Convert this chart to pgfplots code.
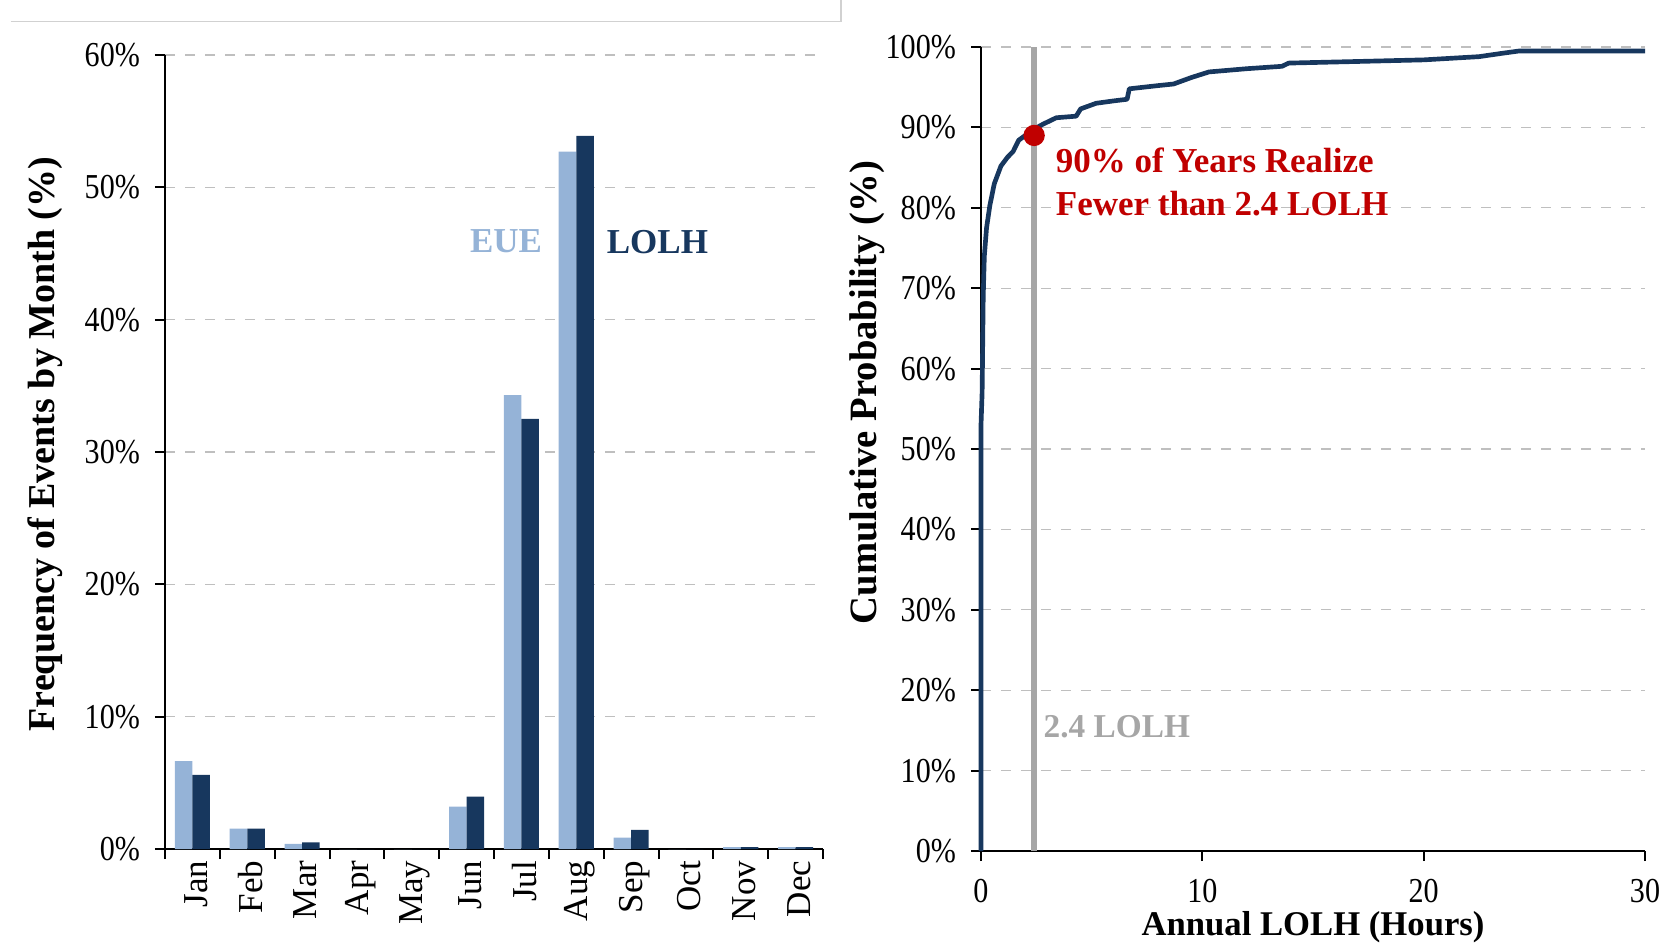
\documentclass[border=0pt]{standalone}
\usepackage{fontspec}
\setmainfont{Liberation Serif}
\newfontfamily\tickfont[FakeStretch=0.86]{Liberation Serif}
\usepackage{pgfplots}
\pgfplotsset{compat=1.18}
\definecolor{eue}{HTML}{95B3D7}
\definecolor{lolh}{HTML}{17375E}
\definecolor{redpt}{HTML}{C00000}
\definecolor{gridc}{HTML}{BFBFBF}
\definecolor{vline}{HTML}{A6A6A6}
\begin{document}
\begin{tikzpicture}
\useasboundingbox (0,0) rectangle (502.5pt,-284.1pt);
\draw[color=black!18, line width=0.5pt] (3.2pt,-6.4pt) -- (252.2pt,-6.4pt) -- (252.2pt,0pt);
% ---------------- left: frequency by month ----------------
\begin{axis}[
  at={(49.5pt,-254.7pt)}, anchor=south west,
  width=197.4pt, height=238.2pt, scale only axis,
  xmin=-0.5, xmax=11.5, ymin=0, ymax=60,
  axis lines*=left, axis line style={-, black, line width=0.6pt},
  tick align=outside, major tick length=3pt,
  tick style={black, line width=0.6pt},
  ytick={0,10,...,60},
  yticklabels={0\%,10\%,20\%,30\%,40\%,50\%,60\%},
  yticklabel style={font=\tickfont\fontsize{10.5}{12}\selectfont, xshift=-1pt},
  ymajorgrids, grid style={dashed, gridc, line width=0.4pt},
  xtick={-0.5,0.5,...,11.5}, xticklabels={,,,,,,,,,,,,},
  extra x ticks={0,1,...,11},
  extra x tick labels={Jan,Feb,Mar,Apr,May,Jun,Jul,Aug,Sep,Oct,Nov,Dec},
  extra x tick style={major tick length=0pt, grid=none,
    tick label style={rotate=90, anchor=east, font=\fontsize{10.5}{12}\selectfont, yshift=-1pt}},
  every axis y label/.style={at={(axis description cs:-0.182,0.51)}, rotate=90, anchor=center,
    font=\bfseries\fontsize{11.4}{13}\selectfont},
  ylabel={Frequency of Events by Month (\%)},
  clip=false,
]
\addplot[ybar, bar width=0.32, bar shift=-0.16, fill=eue, draw=none] coordinates {
  (0,6.65) (1,1.54) (2,0.38) (3,0) (4,0) (5,3.2) (6,34.3) (7,52.7) (8,0.86) (9,0) (10,0.15) (11,0.15)};
\addplot[ybar, bar width=0.32, bar shift=0.16, fill=lolh, draw=none] coordinates {
  (0,5.6) (1,1.54) (2,0.5) (3,0) (4,0) (5,3.96) (6,32.5) (7,53.9) (8,1.44) (9,0) (10,0.15) (11,0.15)};
\node[font=\bfseries\fontsize{10.5}{12}\selectfont, text=eue] at (axis cs:5.72,45.9) {EUE};
\node[font=\bfseries\fontsize{10.5}{12}\selectfont, text=lolh] at (axis cs:8.48,45.9) {LOLH};
\end{axis}
% ---------------- right: cumulative probability ----------------
\begin{axis}[
  at={(294.3pt,-255.3pt)}, anchor=south west,
  width=199.2pt, height=241.2pt, scale only axis,
  xmin=0, xmax=30, ymin=0, ymax=100,
  axis lines*=left, axis line style={-, black, line width=0.6pt},
  tick align=outside, major tick length=3pt,
  tick style={black, line width=0.6pt},
  xtick={0,10,20,30}, xticklabels={0,10,20,30},
  xticklabel style={font=\tickfont\fontsize{10.5}{12}\selectfont, yshift=-2pt},
  ytick={0,10,...,100},
  yticklabels={0\%,10\%,20\%,30\%,40\%,50\%,60\%,70\%,80\%,90\%,100\%},
  yticklabel style={font=\tickfont\fontsize{10.5}{12}\selectfont, xshift=-1pt},
  ymajorgrids, grid style={dashed, gridc, line width=0.4pt},
  every axis y label/.style={at={(axis description cs:-0.172,0.57)}, rotate=90, anchor=center,
    font=\bfseries\fontsize{11.6}{13}\selectfont},
  every axis x label/.style={at={(axis description cs:0.5,-0.095)}, anchor=center,
    font=\bfseries\fontsize{10.4}{12}\selectfont},
  ylabel={Cumulative Probability (\%)},
  xlabel={Annual LOLH (Hours)},
  clip=false,
]
\addplot[vline, line width=1.6pt] coordinates {(2.4,0) (2.4,100)};
\addplot[lolh, line width=1.4pt, line join=round] coordinates {
  (0,0) (0,53) (0.05,57) (0.08,64) (0.1,69) (0.15,74) (0.25,77.5) (0.4,80.3) (0.6,83)
  (0.9,85.2) (1.2,86.3) (1.45,87) (1.7,88.4) (2.0,89) (2.4,89.8) (2.8,90.4) (3.4,91.2)
  (4.3,91.4) (4.5,92.3) (5.2,93) (6,93.3) (6.6,93.5) (6.7,94.8) (8,95.2) (8.7,95.4)
  (9.5,96.2) (10.3,96.9) (12,97.3) (13.6,97.6) (13.9,98) (17,98.2) (20,98.4) (22.5,98.8)
  (23.5,99.2) (24.3,99.5) (30,99.5)};
\addplot[only marks, mark=*, mark size=3pt, color=redpt] coordinates {(2.4,89)};
\node[anchor=west, align=left, text=redpt, font=\bfseries\fontsize{10.5}{13.1}\selectfont]
  at (axis cs:2.85,83.2) {90\% of Years Realize\\Fewer than 2.4 LOLH};
\node[anchor=west, text=vline, font=\bfseries\fontsize{10}{12}\selectfont]
  at (axis cs:2.3,15.5) {2.4 LOLH};
\end{axis}
\end{tikzpicture}
\end{document}
